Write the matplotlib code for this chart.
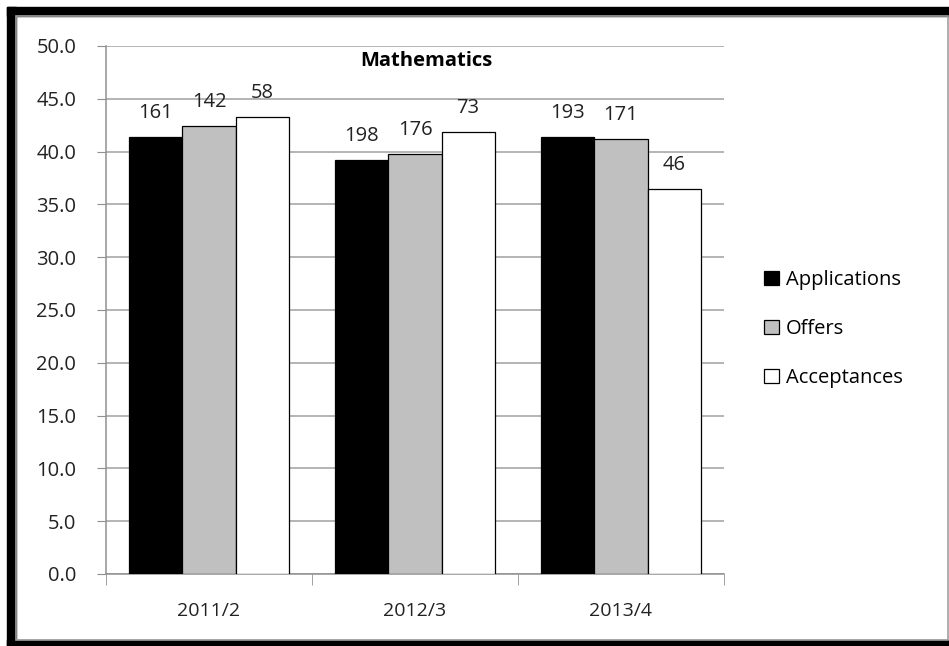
import matplotlib.pyplot as plt
import numpy as np
from matplotlib.patches import Rectangle

# data
anos = ['2011/2', '2012/3', '2013/4']
applications = [41.4, 39.2, 41.4]
offers = [42.4, 39.8, 41.2]
acceptances = [43.3, 41.9, 36.5]
n_applications = [161, 198, 193]
n_offers = [142, 176, 171]
n_acceptances = [58, 73, 46]

nomes = ['Applications', 'Offers', 'Acceptances']
cores = ['black', '#c0c0c0', 'white']

plt.rcParams['font.family'] = ['Open Sans', 'DejaVu Sans']

fig = plt.figure(figsize=(9.49, 6.46), dpi=100)
ax = fig.add_axes([0.1117, 0.1115, 0.6512, 0.8173])

x = np.arange(len(anos))
larg = 0.258
series = [applications, offers, acceptances]
contagens = [n_applications, n_offers, n_acceptances]
for i in range(3):
    pos = x + (i - 1) * larg
    barras = ax.bar(pos, series[i], width=larg, color=cores[i], edgecolor='black',
                    linewidth=0.9, label=nomes[i], zorder=3)
    ax.bar_label(barras, labels=[str(c) for c in contagens[i]], padding=10,
                 fontsize=14.5, color='#222222')

ax.set_xlim(-0.5, 2.5)
ax.set_ylim(0, 50)
ax.set_yticks(np.arange(0, 50.1, 5))
ax.set_yticklabels(['%.1f' % v for v in np.arange(0, 50.1, 5)])
ax.set_xticks(x)
ax.set_xticklabels(anos)
ax.set_xticks([-0.5, 0.5, 1.5, 2.5], minor=True)
ax.tick_params(axis='x', which='major', length=0, pad=20, labelsize=14, labelcolor='#222222')
ax.tick_params(axis='x', which='minor', length=8, color='#909090')
ax.tick_params(axis='y', length=6.5, color='#909090', labelsize=14.5, pad=15,
               labelcolor='#222222')
ax.grid(axis='y', color='#a0a0a0', linewidth=1.1, zorder=0)
ax.set_axisbelow(True)
for s in ['top', 'right']:
    ax.spines[s].set_visible(False)
for s in ['left', 'bottom']:
    ax.spines[s].set_color('#909090')
    ax.spines[s].set_linewidth(1.1)

ax.text(0.518, 0.971, 'Mathematics', transform=ax.transAxes, ha='center', va='center',
        fontsize=14.5, fontweight='bold')

fig.legend(loc='center left', bbox_to_anchor=(0.797, 0.491), frameon=False, fontsize=14.5,
           handlelength=0.7, handleheight=0.7, handletextpad=0.35, labelspacing=1.45,
           borderaxespad=0)

# moldura preta (topo, esquerda, base) e linha cinza
W, H = 949.0, 646.0
fig.add_artist(Rectangle((7 / W, 1 - 16 / H), 1 - 7 / W, 9 / H, transform=fig.transFigure,
                         color='black', zorder=10))
fig.add_artist(Rectangle((7 / W, 0), 9 / W, 1 - 7 / H, transform=fig.transFigure,
                         color='black', zorder=10))
fig.add_artist(Rectangle((7 / W, 0), 1 - 7 / W, 6 / H, transform=fig.transFigure,
                         color='black', zorder=10))
fig.add_artist(Rectangle((16 / W, 6 / H), 1 - 17.5 / W, 1 - 22 / H, transform=fig.transFigure,
                         fill=False, edgecolor='#a0a0a0', linewidth=1.2, zorder=10))

fig.savefig('out.png', dpi=100)
